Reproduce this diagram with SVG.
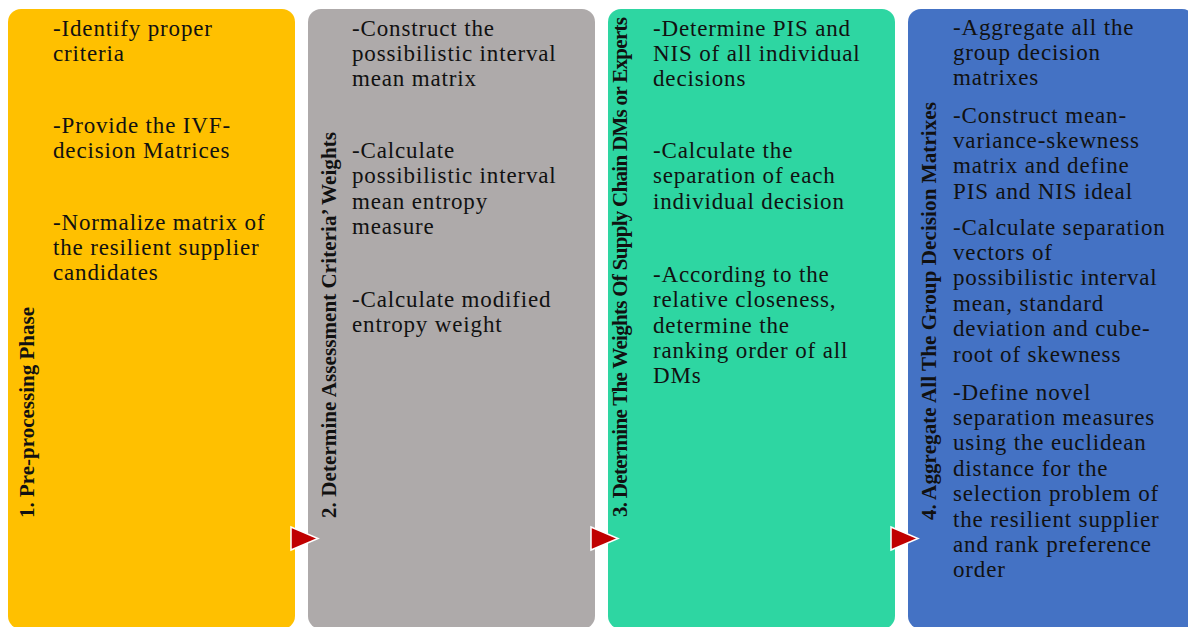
<svg xmlns="http://www.w3.org/2000/svg" width="1188" height="627" viewBox="0 0 1188 627">
<defs>
<style>
.box{stroke:none}
.body{font-family:"Liberation Serif","Times New Roman",serif;font-size:23px;letter-spacing:0.85px;fill:#111}
.lbl{font-family:"Liberation Serif","Times New Roman",serif;font-size:21px;font-weight:bold;fill:#111}
.arr{fill:#C00000;stroke:#FFFFFF;stroke-width:1.5}
</style>
</defs>
<rect width="1188" height="627" fill="#FFFFFF"/>
<g id="node1">
<rect class="box" x="8" y="9" width="287" height="620" rx="13" fill="#FFC000"/>
<text class="lbl" transform="translate(34,518) rotate(-90)" textLength="211" lengthAdjust="spacing">1. Pre-processing Phase</text>
<text class="body">
<tspan x="53" y="36">-Identify proper</tspan>
<tspan x="53" y="61">criteria</tspan>
<tspan x="53" y="133">-Provide the IVF-</tspan>
<tspan x="53" y="158">decision Matrices</tspan>
<tspan x="53" y="230">-Normalize matrix of</tspan>
<tspan x="53" y="255">the resilient supplier</tspan>
<tspan x="53" y="280">candidates</tspan>
</text>
</g>
<g id="node2">
<rect class="box" x="308" y="9" width="287" height="620" rx="13" fill="#AEAAAA"/>
<text class="lbl" transform="translate(336,518) rotate(-90)" textLength="386" lengthAdjust="spacing">2. Determine Assessment Criteria’ Weights</text>
<text class="body">
<tspan x="352" y="36">-Construct the</tspan>
<tspan x="352" y="61">possibilistic interval</tspan>
<tspan x="352" y="86">mean matrix</tspan>
<tspan x="352" y="158">-Calculate</tspan>
<tspan x="352" y="183">possibilistic interval</tspan>
<tspan x="352" y="209">mean entropy</tspan>
<tspan x="352" y="234">measure</tspan>
<tspan x="352" y="307">-Calculate modified</tspan>
<tspan x="352" y="332">entropy weight</tspan>
</text>
</g>
<g id="node3">
<rect class="box" x="608" y="9" width="287" height="620" rx="13" fill="#2ED6A2"/>
<text class="lbl" transform="translate(627,517) rotate(-90)" textLength="500" lengthAdjust="spacing">3. Determine The Weights Of Supply Chain DMs or Experts</text>
<text class="body">
<tspan x="653" y="36">-Determine PIS and</tspan>
<tspan x="653" y="61">NIS of all individual</tspan>
<tspan x="653" y="86">decisions</tspan>
<tspan x="653" y="158">-Calculate the</tspan>
<tspan x="653" y="183">separation of each</tspan>
<tspan x="653" y="209">individual decision</tspan>
<tspan x="653" y="282">-According to the</tspan>
<tspan x="653" y="307">relative closeness,</tspan>
<tspan x="653" y="333">determine the</tspan>
<tspan x="653" y="358">ranking order of all</tspan>
<tspan x="653" y="383">DMs</tspan>
</text>
</g>
<g id="node4">
<rect class="box" x="908" y="9" width="287" height="620" rx="13" fill="#4472C4"/>
<text class="lbl" transform="translate(936,520) rotate(-90)" textLength="418" lengthAdjust="spacing">4. Aggregate All The Group Decision Matrixes</text>
<text class="body">
<tspan x="953" y="35">-Aggregate all the</tspan>
<tspan x="953" y="60">group decision</tspan>
<tspan x="953" y="85">matrixes</tspan>
<tspan x="953" y="123">-Construct mean-</tspan>
<tspan x="953" y="148">variance-skewness</tspan>
<tspan x="953" y="173">matrix and define</tspan>
<tspan x="953" y="199">PIS and NIS ideal</tspan>
<tspan x="953" y="235">-Calculate separation</tspan>
<tspan x="953" y="260">vectors of</tspan>
<tspan x="953" y="285">possibilistic interval</tspan>
<tspan x="953" y="311">mean, standard</tspan>
<tspan x="953" y="336">deviation and cube-</tspan>
<tspan x="953" y="362">root of skewness</tspan>
<tspan x="953" y="400">-Define novel</tspan>
<tspan x="953" y="425">separation measures</tspan>
<tspan x="953" y="450">using the euclidean</tspan>
<tspan x="953" y="476">distance for the</tspan>
<tspan x="953" y="501">selection problem of</tspan>
<tspan x="953" y="527">the resilient supplier</tspan>
<tspan x="953" y="552">and rank preference</tspan>
<tspan x="953" y="577">order</tspan>
</text>
</g>
<g id="connectors">
<polygon class="arr" points="291,527 318,538.5 291,550"/>
<polygon class="arr" points="591,527 618,538.5 591,550"/>
<polygon class="arr" points="891,527 918,538.5 891,550"/>
</g>
</svg>
